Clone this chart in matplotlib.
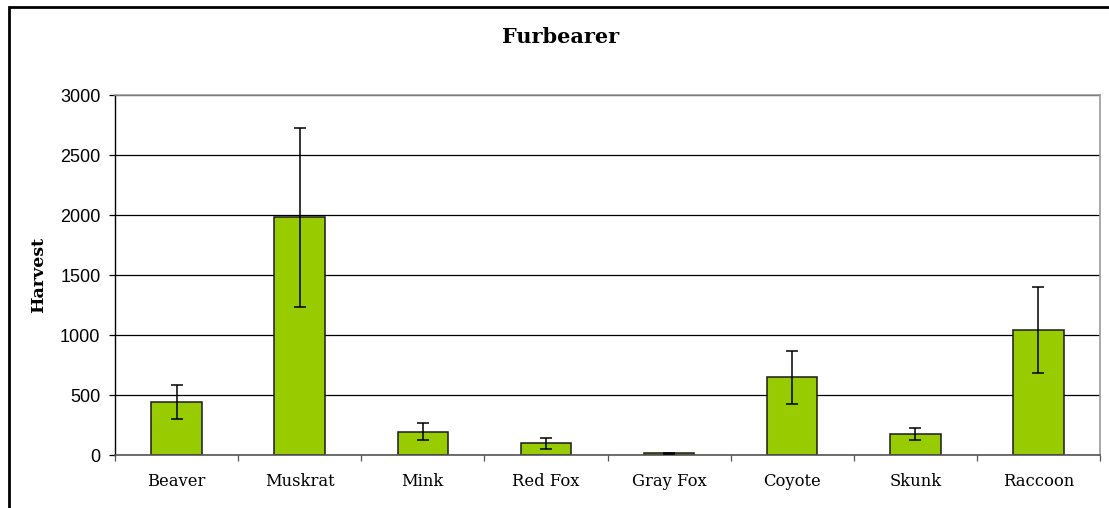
import matplotlib
matplotlib.use("Agg")
import matplotlib.pyplot as plt
from matplotlib.patches import Rectangle
import numpy as np

categories = ["Beaver", "Muskrat", "Mink", "Red Fox", "Gray Fox", "Coyote", "Skunk", "Raccoon"]
harvest = [440, 1980, 195, 97, 14, 648, 178, 1045]
errors = [140, 748, 72, 48, 4, 222, 50, 358]
y_ticks = [0, 500, 1000, 1500, 2000, 2500, 3000]

W, H = 1109, 508
fig = plt.figure(figsize=(W / 100, H / 100), dpi=100)
ax = fig.add_axes([115 / W, 1 - 455 / H, (1100 - 115) / W, (455 - 95) / H])

x = np.arange(len(categories))
ax.set_axisbelow(True)
ax.yaxis.grid(True, color="black", linewidth=0.9)
ax.bar(x, harvest, width=0.41, color="#99CC00", edgecolor="#1a1a1a", linewidth=1.1, zorder=2)
ax.errorbar(x, harvest, yerr=errors, fmt="none", ecolor="black", elinewidth=1.1,
            capsize=4, capthick=1.1, zorder=3)

ax.set_xlim(-0.5, len(categories) - 0.5)
ax.set_ylim(0, 3000)
ax.set_yticks(y_ticks)
ax.set_yticklabels([str(v) for v in y_ticks], family="Liberation Sans", fontsize=13)
ax.tick_params(axis="y", length=4.5, width=0.9, color="black", pad=6)

ax.set_xticks(x)
ax.set_xticklabels(categories, family="DejaVu Serif", fontsize=11.8)
ax.tick_params(axis="x", which="major", length=0, pad=13)
ax.set_xticks(np.arange(len(categories) + 1) - 0.5, minor=True)
ax.tick_params(axis="x", which="minor", length=4.5, width=0.9, color="#555555")

for side in ["top", "right"]:
    ax.spines[side].set_color("#999999")
    ax.spines[side].set_linewidth(1.2)
ax.spines["left"].set_color("black")
ax.spines["left"].set_linewidth(1.0)
ax.spines["bottom"].set_color("#555555")
ax.spines["bottom"].set_linewidth(1.2)

ax.set_ylabel("Harvest", family="DejaVu Serif", fontweight="bold", fontsize=12.5, labelpad=9)

fig.text(561 / W, 1 - 37 / H, "Furbearer", family="DejaVu Serif", fontweight="bold",
         fontsize=15, ha="center", va="center")

fig.patches.append(Rectangle((8.5 / W, -0.1), 1.2, 1 - 7.5 / H + 0.1, transform=fig.transFigure,
                             fill=False, edgecolor="black", linewidth=2.0))

fig.savefig("out.png", dpi=100)
